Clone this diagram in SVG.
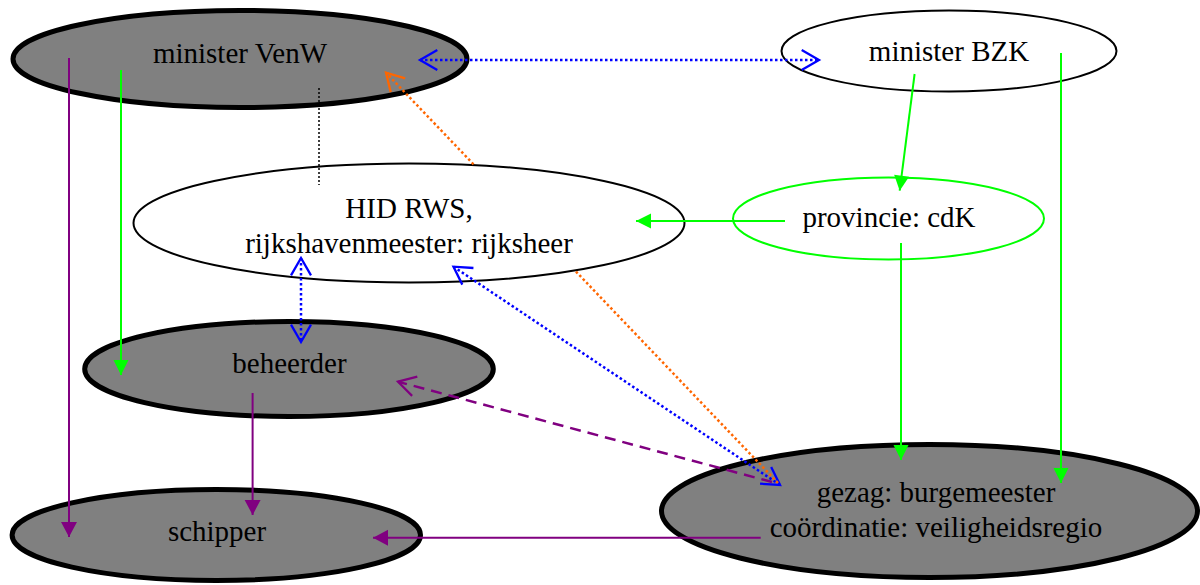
<svg xmlns="http://www.w3.org/2000/svg" width="1200" height="585" viewBox="0 0 1200 585">
<style>
text{font-family:"Liberation Serif","Times New Roman",serif;font-size:29px;fill:#000;text-anchor:middle}
.gray{fill:#808080;stroke:#000;stroke-width:5}
.white{fill:#fff;stroke:#000;stroke-width:2}
.greenn{fill:#fff;stroke:#00ff00;stroke-width:2}
.ln{fill:none;stroke-width:2}
.g{stroke:#00ff00}
.p{stroke:#800080}
.dot{stroke-dasharray:2.5 2.5;stroke-width:2.5;fill:none}
.b{stroke:#0000ff}
.o{stroke:#ff6600}
.k{stroke:#000;stroke-width:1.5;stroke-dasharray:2 2;fill:none}
.dash{stroke:#800080;stroke-width:2.5;stroke-dasharray:11 7;fill:none}
</style>
<defs>
<marker id="fg" markerUnits="userSpaceOnUse" markerWidth="16" markerHeight="16" refX="15" refY="7.5" orient="auto" overflow="visible"><path d="M0,0 L15,7.5 L0,15 Z" fill="#00ff00"/></marker>
<marker id="fp" markerUnits="userSpaceOnUse" markerWidth="16" markerHeight="16" refX="15" refY="8" orient="auto" overflow="visible"><path d="M0,0 L15,8 L0,16 Z" fill="#800080"/></marker>
<marker id="ob" markerUnits="userSpaceOnUse" markerWidth="24" markerHeight="24" refX="20" refY="12" orient="auto-start-reverse" overflow="visible"><path d="M2.7,2 L20,12 L2.7,22" fill="none" stroke="#0000ff" stroke-width="2.3"/></marker>
<marker id="oo" markerUnits="userSpaceOnUse" markerWidth="24" markerHeight="24" refX="20" refY="12" orient="auto" overflow="visible"><path d="M2.7,2 L20,12 L2.7,22" fill="none" stroke="#ff6600" stroke-width="2.3"/></marker>
<marker id="op" markerUnits="userSpaceOnUse" markerWidth="24" markerHeight="24" refX="20" refY="12" orient="auto" overflow="visible"><path d="M2.7,2 L20,12 L2.7,22" fill="none" stroke="#800080" stroke-width="2.3"/></marker>
</defs>

<g id="node-venw">
<ellipse class="gray" cx="240" cy="59" rx="227" ry="48.5"/>
<text x="240" y="63">minister VenW</text>
</g>
<g id="node-bzk">
<ellipse class="white" cx="949" cy="51" rx="167.5" ry="40.5"/>
<text x="949" y="61">minister BZK</text>
</g>
<g id="node-hid">
<ellipse class="white" cx="409" cy="223" rx="275.5" ry="59.5"/>
<text x="409" y="218">HID RWS,</text>
<text x="409" y="253">rijkshavenmeester: rijksheer</text>
</g>
<g id="node-provincie">
<ellipse class="greenn" cx="888.5" cy="218.5" rx="155.5" ry="41"/>
<text x="889" y="227">provincie: cdK</text>
</g>
<g id="node-beheerder">
<ellipse class="gray" cx="289" cy="369" rx="204.3" ry="47.5"/>
<text x="289.5" y="373">beheerder</text>
</g>
<g id="node-schipper">
<ellipse class="gray" cx="216.3" cy="535" rx="204.2" ry="45.5"/>
<text x="217" y="541">schipper</text>
</g>
<g id="node-gezag">
<ellipse class="gray" cx="929.5" cy="511" rx="268" ry="66.5"/>
<text x="936" y="502">gezag: burgemeester</text>
<text x="936" y="537">coördinatie: veiligheidsregio</text>
</g>

<g id="connectors">
<path class="ln p" d="M69,58 L69,537" marker-end="url(#fp)"/>
<path class="ln g" d="M121,70 L121,375" marker-end="url(#fg)"/>
<path class="ln p" d="M252.6,393 L252.6,515" marker-end="url(#fp)"/>
<path class="ln p" d="M760.7,537.7 L373,537.7" marker-end="url(#fp)"/>
<path class="ln g" d="M914.6,74 L899.7,190.7" marker-end="url(#fg)"/>
<path class="ln g" d="M785,221 L636,221" marker-end="url(#fg)"/>
<path class="ln g" d="M901,243 L901,460" marker-end="url(#fg)"/>
<path class="ln g" d="M1061,53 L1061,483" marker-end="url(#fg)"/>
<path class="k" d="M319,88 L319,185"/>
<path class="dot b" d="M420,60 L819,60" marker-start="url(#ob)" marker-end="url(#ob)"/>
<path class="dot b" d="M301,258 L301,342" marker-start="url(#ob)" marker-end="url(#ob)"/>
<path class="dot b" d="M453.5,266.7 L780,485" marker-start="url(#ob)" marker-end="url(#ob)"/>
<path class="dot o" d="M778,483 L576,271.6 M473.5,164.3 L386,72.7" marker-end="url(#oo)"/>
<path class="dash" d="M772,482 L398,381.7" marker-end="url(#op)"/>
</g>
</svg>
